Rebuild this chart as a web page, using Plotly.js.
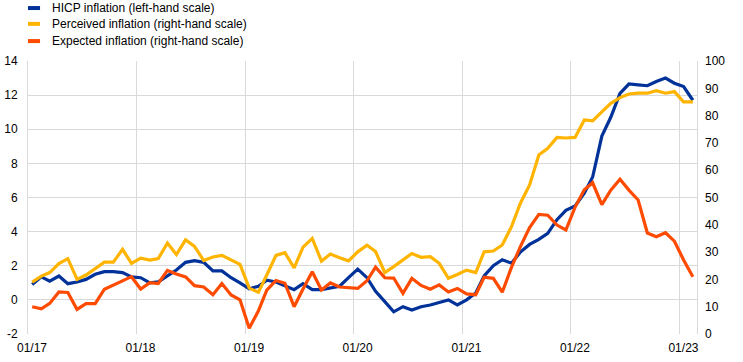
<!DOCTYPE html>
<html>
<head>
<meta charset="utf-8">
<script src="https://cdn.plot.ly/plotly-3.0.1.min.js"></script>
<style>html,body{margin:0;padding:0;background:#fff;}#chart{width:743px;height:362px;}</style>
</head>
<body>
<div id="chart"></div>
<script>
// Monthly observations, Jan 2017 - Feb 2023
const startYear = 2017;
const hicp = [
  0.9, 1.35, 1.1, 1.4, 0.95, 1.05, 1.2, 1.5, 1.65, 1.65, 1.6, 1.35,
  1.3, 1.0, 1.05, 1.4, 1.75, 2.2, 2.3, 2.2, 1.7, 1.7, 1.3, 1.0,
  0.65, 0.8, 1.15, 1.05, 0.85, 0.6, 0.95, 0.6, 0.6, 0.7, 0.8, 1.3,
  1.8, 1.3, 0.5, -0.1, -0.7, -0.4, -0.6, -0.4, -0.3, -0.15, 0.0, -0.3,
  0.0, 0.4, 1.4, 2.0, 2.35, 2.15, 2.8, 3.25, 3.55, 3.9, 4.7, 5.25,
  5.5, 6.25, 7.2, 9.6, 10.7, 12.1, 12.65, 12.6, 12.55, 12.8, 13.0, 12.7,
  12.5, 11.7
];
const perceived = [
  19.0, 21.2, 22.5, 25.8, 27.6, 20.0, 21.6, 24.1, 26.3, 26.3, 31.0, 25.9,
  27.8, 27.1, 27.6, 33.3, 29.1, 34.5, 32.1, 26.9, 28.2, 28.8, 27.1, 25.5,
  16.8, 15.3, 21.6, 28.8, 29.8, 24.2, 31.8, 35.0, 26.7, 29.3, 27.9, 26.8,
  30.1, 32.5, 30.2, 22.5, 24.7, 27.1, 29.5, 28.1, 28.3, 25.9, 20.4, 21.8,
  23.4, 22.5, 30.1, 30.4, 32.6, 39.3, 47.9, 54.6, 65.6, 68.0, 72.0, 71.8,
  72.0, 78.4, 78.1, 81.4, 84.5, 86.6, 87.9, 88.2, 88.2, 89.1, 88.2, 88.8,
  85.0, 85.0
];
const expected = [
  10.0, 9.2, 11.2, 15.4, 15.2, 9.0, 11.1, 11.1, 16.4, 17.9, 19.3, 21.0,
  16.5, 18.8, 18.5, 23.3, 22.0, 20.9, 17.7, 17.2, 14.4, 18.5, 14.3, 12.5,
  2.1, 8.5, 16.1, 19.6, 18.6, 10.0, 16.5, 22.8, 16.1, 18.7, 17.2, 16.9,
  16.7, 19.5, 24.5, 20.6, 20.5, 14.9, 20.4, 17.8, 16.4, 18.0, 15.4, 16.7,
  14.7, 14.4, 20.8, 20.4, 15.3, 24.4, 32.0, 39.0, 43.8, 43.5, 39.9, 38.1,
  46.5, 52.8, 55.4, 47.4, 52.7, 56.7, 52.7, 49.1, 37.0, 35.6, 37.1, 34.0,
  27.1, 21.0
];
const seriesNames = [
  "HICP inflation (left-hand scale)",
  "Perceived inflation (right-hand scale)",
  "Expected inflation (right-hand scale)"
];
const leftTicks = [-2, 0, 2, 4, 6, 8, 10, 12, 14];
const leftTickText = ["-2", "0", "2", "4", "6", "8", "10", "12", "14"];
const rightTicks = [0, 10, 20, 30, 40, 50, 60, 70, 80, 90, 100];

function monthDates(n) {
  const out = [];
  for (let i = 0; i < n; i++) {
    const y = startYear + Math.floor(i / 12);
    const m = (i % 12) + 1;
    out.push(y + "-" + String(m).padStart(2, "0") + "-15");
  }
  return out;
}
const dates = monthDates(hicp.length);

const colors = ["#003299", "#FFB400", "#FF4B00"];

const traces = [
  {x: dates, y: perceived, yaxis: "y2", type: "scatter", mode: "lines",
   name: seriesNames[1], line: {color: colors[1], width: 3.2}},
  {x: dates, y: expected, yaxis: "y2", type: "scatter", mode: "lines",
   name: seriesNames[2], line: {color: colors[2], width: 3.2}},
  {x: dates, y: hicp, yaxis: "y", type: "scatter", mode: "lines",
   name: seriesNames[0], line: {color: colors[0], width: 3.2}}
];

const legendY = [1.194, 1.136, 1.073];
const shapes = [];
const annotations = [];
for (let k = 0; k < 3; k++) {
  shapes.push({type: "line", xref: "paper", yref: "paper",
    x0: 0.0, x1: 0.018, y0: legendY[k], y1: legendY[k],
    line: {color: colors[k], width: 4}});
  annotations.push({xref: "paper", yref: "paper", x: 0.0329, y: legendY[k],
    xanchor: "left", yanchor: "middle", showarrow: false, text: seriesNames[k],
    font: {family: "Liberation Sans, Arial, sans-serif", size: 12, color: "#000"}});
}

const layout = {
  width: 743, height: 362,
  margin: {l: 28, r: 46, t: 61, b: 28},
  paper_bgcolor: "#fff", plot_bgcolor: "#fff",
  showlegend: false,
  font: {family: "Liberation Sans, Arial, sans-serif", size: 12, color: "#000"},
  xaxis: {
    type: "date",
    range: ["2017-01-01", "2023-03-01"],
    tick0: "2017-01-01", dtick: "M12", tickformat: "%m/%y",
    showgrid: true, gridcolor: "#d9d9d9", gridwidth: 1,
    zeroline: false, showline: false, ticks: "",
    ticklabelstandoff: 5, ticklabelshift: 4,
    tickfont: {size: 12, color: "#000"}
  },
  yaxis: {
    range: [-2, 14], tickvals: leftTicks, ticktext: leftTickText,
    showgrid: true, gridcolor: "#d9d9d9", gridwidth: 1,
    zeroline: false, showline: true, mirror: true, linecolor: "#d9d9d9", linewidth: 1,
    ticks: "", ticklabelstandoff: 7,
    tickfont: {size: 12, color: "#000"}
  },
  yaxis2: {
    range: [0, 100], tickvals: rightTicks, overlaying: "y", side: "right",
    showgrid: false, zeroline: false, showline: false, ticks: "",
    ticklabelstandoff: 7,
    tickfont: {size: 12, color: "#000"}
  },
  shapes: shapes,
  annotations: annotations
};

Plotly.newPlot("chart", traces, layout, {displayModeBar: false, staticPlot: true});
</script>
</body>
</html>
